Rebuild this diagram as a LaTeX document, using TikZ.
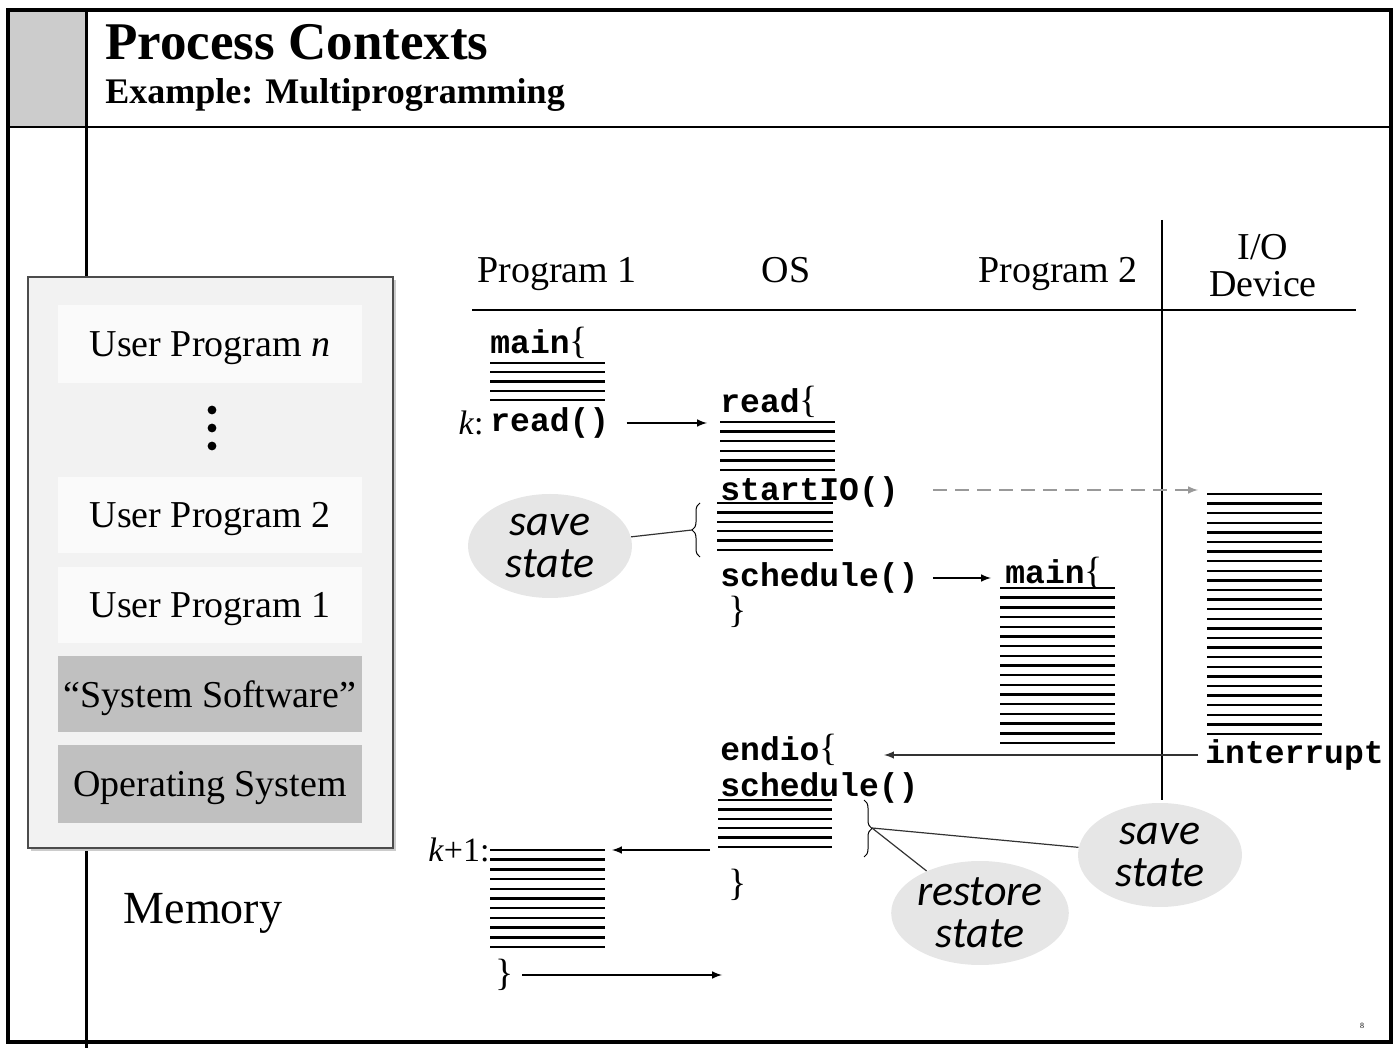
\documentclass[tikz,border=0pt]{standalone}
\usepackage{fontspec}
\setmainfont{Liberation Serif}
\setmonofont{Liberation Mono}
\newfontfamily\bubblefont{Carlito}
\usetikzlibrary{positioning,shapes.geometric,decorations.pathreplacing}

\definecolor{hdrgray}{HTML}{CCCCCC}
\definecolor{memgray}{HTML}{F2F2F2}
\definecolor{slotlight}{HTML}{FAFAFA}
\definecolor{slotdark}{HTML}{C0C0C0}
\definecolor{bubblegray}{HTML}{E6E6E6}

\newcommand{\rmbrace}[1]{{\rmfamily\mdseries\fontsize{19}{20}\selectfont#1}}

\tikzset{
  code/.style={anchor=west, inner sep=0pt, font=\fontsize{16.5}{18}\ttfamily\bfseries},
  hatch/.style={line width=1.2pt},
  arr/.style={-latex, line width=0.7pt},
  slot/.style={minimum width=152pt, minimum height=38pt, inner sep=0pt, text depth=0pt,
    font=\fontsize{19}{22}\selectfont},
  colhead/.style={anchor=base, font=\fontsize{19}{18.5}\selectfont, align=center},
  bubble/.style={ellipse, fill=bubblegray, minimum width=82pt, minimum height=52pt, inner sep=0pt,
    align=center, font=\fontsize{22}{21}\bubblefont\itshape},
  curly/.style={decorate, decoration={brace, amplitude=4pt}, line width=0.5pt},
}

\begin{document}
\begin{tikzpicture}[x=0.5pt,y=-0.5pt]
\useasboundingbox (0,0) rectangle (1398,1052);

% 页面框
\fill[hdrgray] (8,10) rectangle (86,127);
\draw[line width=1pt] (8,127) -- (1391,127);
\draw[line width=1.5pt] (86,10) -- (86,1048);
\draw[line width=2pt] (8,10) rectangle (1391,1042);

\node[anchor=base west, inner sep=0pt, font=\fontsize{26.5}{28}\selectfont\bfseries] (title) at (105,60) {Process Contexts};
\node[anchor=base west, inner sep=0pt, font=\fontsize{18}{20}\selectfont\bfseries] (subtitle) at (105,104) {Example: Multiprogramming};

% 内存
\fill[black!20] (31,280) rectangle (396,851);
\draw[fill=memgray, draw=black!70, line width=1pt] (28,277) rectangle (393,848);
\node[slot, fill=slotlight, minimum height=39pt] (upn) at (210,344) {User Program \textit{n}};
\foreach \y in {410, 428, 446}
  \fill (212,\y) circle (2.2pt);
\node[slot, fill=slotlight] (up2) at (210,515) {User Program 2};
\node[slot, fill=slotlight] (up1) at (210,605) {User Program 1};
\node[slot, fill=slotdark] (syssw) at (210,694) {``System Software''};
\node[slot, fill=slotdark, minimum height=39pt] (opsys) at (210,784) {Operating System};
\node[font=\fontsize{23}{26}\selectfont] (memory) at (203,913) {Memory};

% 表头
\node[colhead] (hdrp1) at (557,283) {Program 1};
\node[colhead] (hdros) at (786,283) {OS};
\node[colhead] (hdrp2) at (1058,283) {Program 2};
\node[colhead] (hdrio) at (1263,297) {I/O\\Device};
\draw[line width=1pt] (472,310) -- (1356,310);
\draw[line width=1pt] (1162,220) -- (1162,800);

% Program 1
\node[code] (p1main) at (490,343) {main\rmbrace{\{}};
\foreach \i in {0,...,4}
  \draw[hatch] (490,{363+9.25*\i}) -- (605,{363+9.25*\i});
\node[code] (p1read) at (490,423) {read()};
\node[left=3pt of p1read, inner sep=0pt, font=\fontsize{17}{18}\selectfont] (p1k) {\textit{k}:};

% OS
\node[code] (osread) at (720,402) {read\rmbrace{\{}};
\foreach \i in {0,...,5}
  \draw[hatch] (720,{422+9.6*\i}) -- (835,{422+9.6*\i});
\node[code] (osstart) at (720,492) {startIO()};
\foreach \i in {0,...,5}
  \draw[hatch] (717,{503+9.4*\i}) -- (833,{503+9.4*\i});
\node[code] (ossched) at (720,578) {schedule()};
\node[code] (osend1) at (728,612) {\rmbrace{\}}};

% Program 2
\node[code] (p2main) at (1005,573) {main\rmbrace{\{}};
\foreach \i in {0,...,16}
  \draw[hatch] (1000,{588+9.69*\i}) -- (1115,{588+9.69*\i});

% I/O
\foreach \i in {0,...,25}
  \draw[hatch] (1207,{494+9.6*\i}) -- (1322,{494+9.6*\i});
\node[code] (iointr) at (1205,755) {interrupt};

% OS
\node[code] (osendio) at (720,750) {endio\rmbrace{\{}};
\node[code] (ossched2) at (720,788) {schedule()};
\foreach \i in {0,...,5}
  \draw[hatch] (718,{800+9.4*\i}) -- (832,{800+9.4*\i});
\node[code] (osend2) at (728,885) {\rmbrace{\}}};

% Program 1
\node[anchor=west, inner sep=0pt, font=\fontsize{17}{18}\selectfont] (p1kk) at (428,850) {\textit{k}+1:};
\foreach \i in {0,...,10}
  \draw[hatch] (490,{850+9.7*\i}) -- (605,{850+9.7*\i});
\node[code] (p1end) at (495,975) {\rmbrace{\}}};

% 箭头
\coordinate (rdtip) at (707,423);
\draw[arr] ([xshift=8.5pt]p1read.east) -- (rdtip);
\coordinate (iotip) at (1198,490);
\draw[arr, dash pattern=on 7pt off 4pt, black!40] ([xshift=17pt]osstart.east |- iotip) -- (iotip);
\draw[arr] ([xshift=7pt]ossched.east) -- ([xshift=-7pt]ossched.east -| p2main.west);
\draw[arr, black!80] ([xshift=-3.5pt]iointr.west) -- ([xshift=23pt]iointr.west -| osendio.east);
\coordinate (svtail) at (710,850);
\coordinate (kktip) at (612,850);
\draw[arr] (svtail) -- (kktip);
\coordinate (rettip) at (722,975);
\draw[arr] ([xshift=4pt]p1end.east) -- (rettip);

% 括号与说明
\draw[curly] (700,557) -- (700,503);
\coordinate (br1) at (692,530);
\draw[curly] (864,800) -- (864,857);
\coordinate (br2) at (872,828);
\node[bubble] (save1) at (550,546) {save\\state};
\node[bubble] (restore) at (980,913) {restore\\state};
\node[bubble] (save2) at (1160,855) {save\\state};
\draw[line width=0.6pt, black!80] (save1) -- (br1);
\draw[line width=0.6pt, black!80] (br2) -- (restore);
\draw[line width=0.6pt, black!80] (br2) -- (save2);

\node[font=\fontsize{4}{4}\selectfont] (pgno) at (1362,1026) {8};
\end{tikzpicture}
\end{document}
